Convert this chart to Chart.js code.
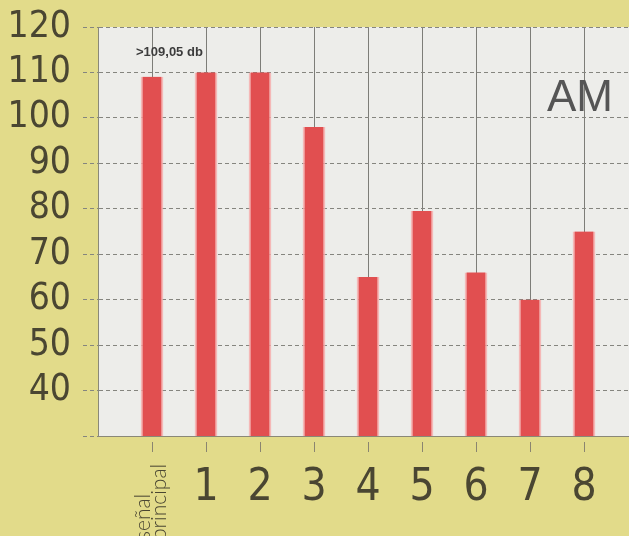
<!DOCTYPE html>
<html>
<head>
<meta charset="utf-8">
<script src="https://cdn.jsdelivr.net/npm/chart.js"></script>
<style>
  html, body { margin: 0; padding: 0; background: #e2db8a; overflow: hidden; }
  #wrap { width: 640px; height: 536px; }
</style>
</head>
<body>
<div id="wrap"><canvas id="amChart" width="640" height="536"></canvas></div>
<script>
  // values (dB)
  const categories = ['', 'señal principal', '1', '2', '3', '4', '5', '6', '7', '8', ''];
  const signalLevels = [null, 109.05, 110, 110, 98, 65, 79.5, 66, 60, 75, null];
  const yMin = 30;
  const yMax = 120;
  const yStep = 10;
  const peakNote = '>109,05 db';
  const bandLabel = 'AM';

  const inkColor = '#4a4632';
  const narrowFont = '"Liberation Sans Narrow", "DejaVu Sans Condensed", sans-serif';

  const decorations = {
    id: 'decorations',
    beforeDraw(chart) {
      const { ctx, chartArea: a } = chart;
      ctx.save();
      ctx.fillStyle = '#ededea';
      ctx.fillRect(a.left, a.top, a.right - a.left, a.bottom - a.top);
      ctx.restore();
    },
    afterDraw(chart) {
      const { ctx, chartArea: a } = chart;
      const x = chart.scales.x;
      ctx.save();
      // small ticks below the axis, with a gap
      ctx.strokeStyle = '#8a8570';
      ctx.lineWidth = 1;
      for (let i = 1; i < categories.length - 1; i++) {
        const px = Math.round(x.getPixelForValue(i)) + 0.5;
        ctx.beginPath();
        ctx.moveTo(px, a.bottom + 6);
        ctx.lineTo(px, a.bottom + 16);
        ctx.stroke();
      }
      // category labels
      ctx.fillStyle = inkColor;
      ctx.textAlign = 'center';
      ctx.textBaseline = 'middle';
      ctx.font = '300 44px ' + narrowFont;
      for (let i = 2; i < categories.length - 1; i++) {
        ctx.fillText(categories[i], x.getPixelForValue(i), a.bottom + 53);
      }
      // rotated two-line label for the main signal
      const words = categories[1].split(' ');
      const cx = x.getPixelForValue(1);
      ctx.font = '300 21px "Lato", sans-serif';
      ctx.textAlign = 'left';
      ctx.textBaseline = 'alphabetic';
      words.forEach((w, k) => {
        ctx.save();
        ctx.translate(cx - 2 + k * 16, 540);
        ctx.rotate(-Math.PI / 2);
        ctx.fillText(w, 0, 0);
        ctx.restore();
      });
      // peak note above the first bar
      const bar0 = chart.getDatasetMeta(0).data[1];
      ctx.fillStyle = '#3c3c3c';
      ctx.font = 'bold 13px "Liberation Sans", Arial, sans-serif';
      ctx.textAlign = 'left';
      ctx.textBaseline = 'middle';
      ctx.fillText(peakNote, bar0.x - 16, 52);
      // band label
      ctx.fillStyle = '#555555';
      ctx.font = '44px "Liberation Sans", Arial, sans-serif';
      ctx.textAlign = 'right';
      ctx.textBaseline = 'alphabetic';
      ctx.fillText(bandLabel, a.right - 25, 111);
      ctx.restore();
    }
  };

  new Chart(document.getElementById('amChart'), {
    type: 'bar',
    data: {
      labels: categories,
      datasets: [{
        data: signalLevels,
        backgroundColor: '#e14f50',
        borderColor: 'rgba(246, 170, 170, 0.8)',
        borderWidth: { left: 2, right: 2, top: 0, bottom: 0 },
        barThickness: 22
      }]
    },
    options: {
      responsive: false,
      animation: false,
      layout: { padding: { top: 27, right: 2, left: 0, bottom: 0 } },
      plugins: {
        legend: { display: false },
        tooltip: { enabled: false }
      },
      scales: {
        x: {
          offset: false,
          grid: { offset: false, color: '#7d7d78', lineWidth: 1, drawTicks: false },
          border: { color: '#8a8878', width: 1 },
          ticks: { display: false },
          afterFit(scale) { scale.height = 100; }
        },
        y: {
          min: yMin,
          max: yMax,
          grid: {
            color: '#85857f',
            lineWidth: 1,
            tickLength: 15,
            tickBorderDash: [4, 3]
          },
          border: { color: '#8a8878', width: 1, dash: [4, 3] },
          ticks: {
            stepSize: yStep,
            autoSkip: false,
            padding: 12,
            color: inkColor,
            font: { family: narrowFont, size: 37, weight: '300' },
            callback: (v) => (v === yMin ? '' : v)
          },
          afterFit(scale) {
            scale.width = 98;
            scale.paddingTop = 0;
            scale.paddingBottom = 0;
          }
        }
      }
    },
    plugins: [decorations]
  });
</script>
</body>
</html>
